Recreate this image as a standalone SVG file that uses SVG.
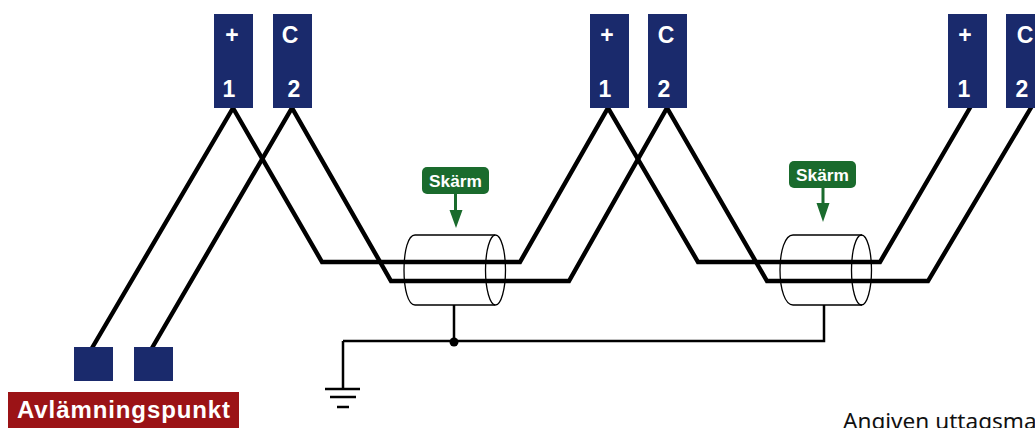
<svg xmlns="http://www.w3.org/2000/svg" width="1035" height="428" viewBox="0 0 1035 428">
<style>
text{font-family:"Liberation Sans",Arial,sans-serif;font-weight:bold;fill:#fff}
.t{fill:#1a2a6c}
.n{font-size:23px;text-anchor:middle}
.w{fill:none;stroke:#000;stroke-width:4.400;stroke-linejoin:miter}
.g{fill:none;stroke:#000;stroke-width:2.500}
.c{fill:none;stroke:#000;stroke-width:1.300}
.s{fill:#1a6b2d}
.sl{font-size:17.300px;text-anchor:middle}
</style>
<rect width="1035" height="428" fill="#fff"/>
<g id="connectors">
<path class="w" d="M92 348L233 108L322 262H520L608 108L698 262H880L971 106"/>
<path class="w" d="M152 348L292 108L391 281H569L667 108L767 281H928L1032 106"/>
<path class="g" d="M454 305V341M343 341H824V305M343 341V389"/>
<path class="g" d="M325 389H360M330 397H356M337 407H349"/>
<circle cx="454" cy="342" r="4.500"/>
</g>
<g id="cable1"><path class="c" d="M415 235H495M415 305H495M415 235C408 235 404 251 404 270C404 289 408 305 415 305"/><ellipse class="c" cx="495.500" cy="270" rx="10" ry="35"/></g>
<g id="cable2"><path class="c" d="M793 235H862M793 305H862M793 235C785 235 780 251 780 270C780 289 785 305 793 305"/><ellipse class="c" cx="861.500" cy="270" rx="10" ry="35"/></g>
<g id="term1"><rect class="t" x="214" y="14" width="39" height="94"/><text class="n" x="232" y="43">+</text><text class="n" x="229" y="97">1</text></g>
<g id="term2"><rect class="t" x="273" y="14" width="39" height="94"/><text class="n" x="290" y="43">C</text><text class="n" x="294" y="97">2</text></g>
<g id="term3"><rect class="t" x="590" y="14" width="39" height="94"/><text class="n" x="607" y="43">+</text><text class="n" x="605" y="97">1</text></g>
<g id="term4"><rect class="t" x="648" y="14" width="39" height="94"/><text class="n" x="666" y="43">C</text><text class="n" x="664" y="97">2</text></g>
<g id="term5"><rect class="t" x="948" y="14" width="39" height="94"/><text class="n" x="965" y="43">+</text><text class="n" x="964" y="97">1</text></g>
<g id="term6"><rect class="t" x="1006" y="14" width="39" height="94"/><text class="n" x="1025" y="43">C</text><text class="n" x="1022" y="97">2</text></g>
<g id="sq1"><rect class="t" x="74" y="347" width="39" height="34"/></g>
<g id="sq2"><rect class="t" x="134" y="347" width="39" height="34"/></g>
<g id="avl"><rect x="8" y="392" width="231" height="36" fill="#9b1316"/><text x="17" y="418" font-size="24" letter-spacing="0.900">Avlämningspunkt</text></g>
<g id="skarm1"><rect class="s" x="422" y="167" width="67" height="27" rx="5"/><text class="sl" x="455.500" y="187">Skärm</text><path class="s" d="M454 194h3v16h5.500l-6.500 18-6.500-18h4.500z"/></g>
<g id="skarm2"><rect class="s" x="789" y="161" width="67" height="27" rx="5"/><text class="sl" x="822.500" y="181">Skärm</text><path class="s" d="M821.500 188h3v15h5l-6.500 19-6.500-19h5z"/></g>
<text x="843" y="429" font-size="22.600" style="font-family:'Noto Sans','Open Sans',sans-serif;font-weight:normal;fill:#111">Angiven uttagsma</text>
</svg>
